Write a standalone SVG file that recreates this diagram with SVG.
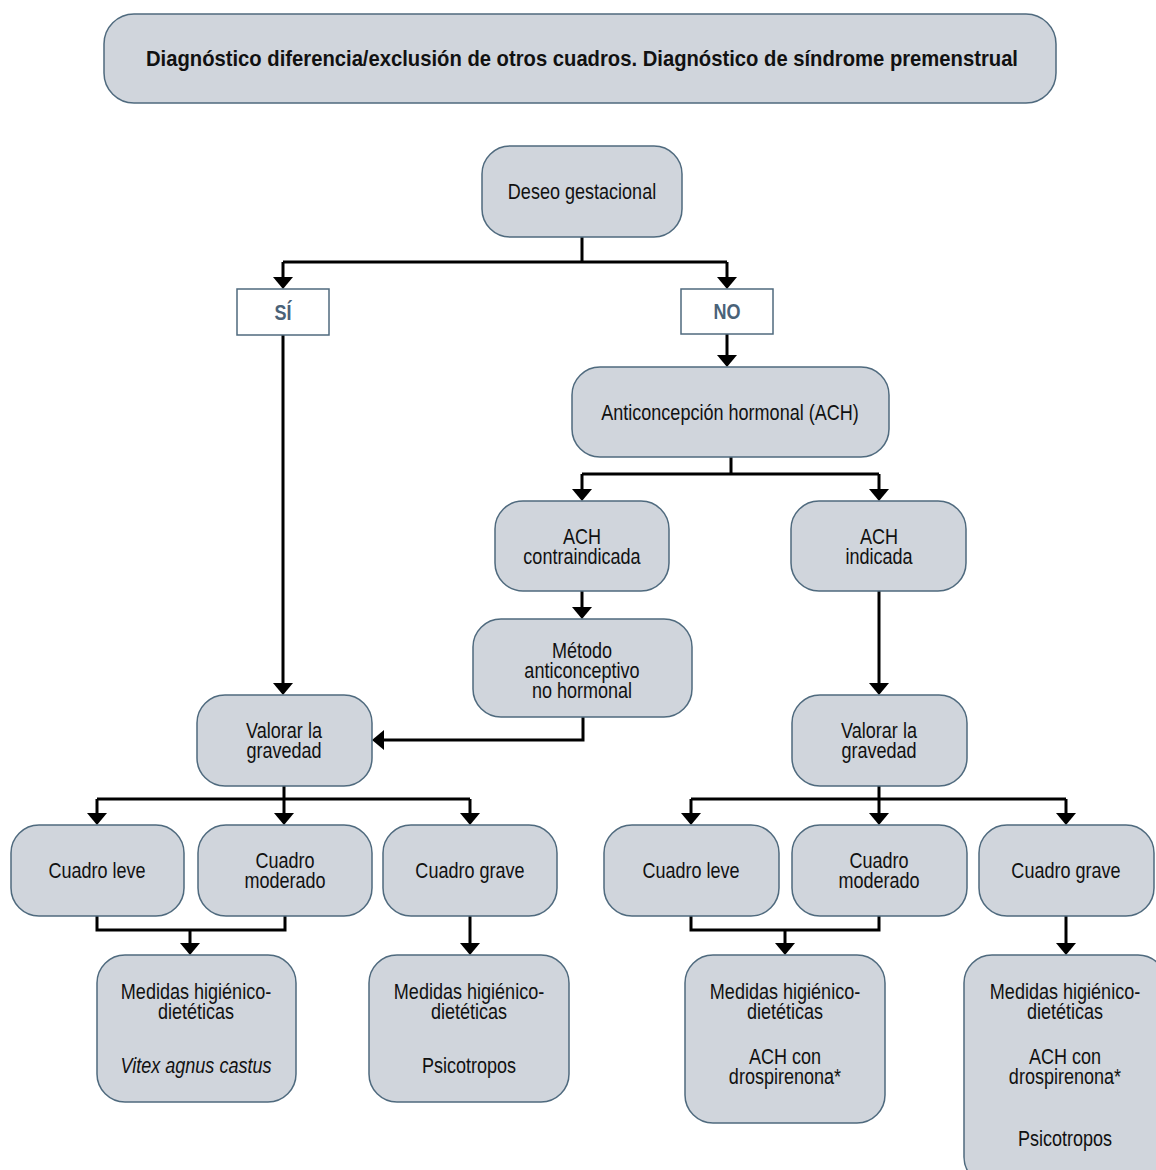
<svg xmlns="http://www.w3.org/2000/svg" width="1156" height="1170" viewBox="0 0 1156 1170">
<defs>
<marker id="ah" viewBox="0 0 12 20" refX="8" refY="10" markerWidth="12" markerHeight="20" markerUnits="userSpaceOnUse" orient="auto">
<path d="M0,0 L12,10 L0,20 z" fill="#000"/>
</marker>
<style>
.n{fill:#d0d5dc;stroke:#4f6a7e;stroke-width:1.5}
.b{fill:#fff;stroke:#4f6a7e;stroke-width:1.5}
text{font-family:"Liberation Sans",Arial,sans-serif;font-size:22px;fill:#111;text-anchor:middle}
.h{font-weight:bold;font-size:22px}
.lbl{font-weight:bold;fill:#4a6278}
.i{font-style:italic}
.c{fill:none;stroke:#000;stroke-width:3}
.a{fill:none;stroke:#000;stroke-width:3;marker-end:url(#ah)}
</style>
</defs>
<rect width="1156" height="1170" fill="#fff"/>
<g id="connectors">
<path class="c" d="M582,237 V262 M283,262 H727"/>
<path class="a" d="M283,262 V285"/>
<path class="a" d="M727,262 V285"/>
<path class="a" d="M283,335 V691"/>
<path class="a" d="M727,334 V363"/>
<path class="c" d="M731,457 V474 M582,474 H879"/>
<path class="a" d="M582,474 V497"/>
<path class="a" d="M879,474 V497"/>
<path class="a" d="M582,591 V615"/>
<path class="a" d="M583,717 V740 H376"/>
<path class="a" d="M879,591 V691"/>
<path class="c" d="M284,786 V799 M97,799 H470"/>
<path class="a" d="M97,799 V821"/>
<path class="a" d="M284,799 V821"/>
<path class="a" d="M470,799 V821"/>
<path class="c" d="M879,786 V799 M691,799 H1066"/>
<path class="a" d="M691,799 V821"/>
<path class="a" d="M879,799 V821"/>
<path class="a" d="M1066,799 V821"/>
<path class="c" d="M97,916 V930 H285 V916"/>
<path class="a" d="M190,930 V951"/>
<path class="a" d="M470,916 V951"/>
<path class="c" d="M691,916 V930 H879 V916"/>
<path class="a" d="M785,930 V951"/>
<path class="a" d="M1066,916 V951"/>
</g>
<g id="header"><rect class="n" x="104" y="14" width="952" height="89" rx="30"/><text class="h" x="582" y="66" textLength="872" lengthAdjust="spacingAndGlyphs">Diagnóstico diferencia/exclusión de otros cuadros. Diagnóstico de síndrome premenstrual</text></g>
<g id="deseo"><rect class="n" x="482" y="146" width="200" height="91" rx="28"/><text transform="translate(582,199) scale(.82,1)" x="0" y="0">Deseo gestacional</text></g>
<g id="si"><rect class="b" x="237" y="289" width="92" height="46"/><text class="lbl" transform="translate(283,320) scale(.82,1)" x="0" y="0">SÍ</text></g>
<g id="no"><rect class="b" x="681" y="289" width="92" height="45"/><text class="lbl" transform="translate(727,319) scale(.82,1)" x="0" y="0">NO</text></g>
<g id="ach"><rect class="n" x="572" y="367" width="317" height="90" rx="28"/><text transform="translate(730,420) scale(.82,1)" x="0" y="0">Anticoncepción hormonal (ACH)</text></g>
<g id="contra"><rect class="n" x="495" y="501" width="174" height="90" rx="28"/><text transform="translate(582,544) scale(.82,1)" x="0" y="0">ACH<tspan x="0" dy="20">contraindicada</tspan></text></g>
<g id="indicada"><rect class="n" x="791" y="501" width="175" height="90" rx="28"/><text transform="translate(879,544) scale(.82,1)" x="0" y="0">ACH<tspan x="0" dy="20">indicada</tspan></text></g>
<g id="metodo"><rect class="n" x="473" y="619" width="219" height="98" rx="28"/><text transform="translate(582,658) scale(.82,1)" x="0" y="0">Método<tspan x="0" dy="20">anticonceptivo</tspan><tspan x="0" dy="20">no hormonal</tspan></text></g>
<g id="valorar-l"><rect class="n" x="197" y="695" width="175" height="91" rx="28"/><text transform="translate(284,738) scale(.82,1)" x="0" y="0">Valorar la<tspan x="0" dy="20">gravedad</tspan></text></g>
<g id="valorar-r"><rect class="n" x="792" y="695" width="175" height="91" rx="28"/><text transform="translate(879,738) scale(.82,1)" x="0" y="0">Valorar la<tspan x="0" dy="20">gravedad</tspan></text></g>
<g id="leve-l"><rect class="n" x="11" y="825" width="173" height="91" rx="28"/><text transform="translate(97,878) scale(.82,1)" x="0" y="0">Cuadro leve</text></g>
<g id="moderado-l"><rect class="n" x="198" y="825" width="174" height="91" rx="28"/><text transform="translate(285,868) scale(.82,1)" x="0" y="0">Cuadro<tspan x="0" dy="20">moderado</tspan></text></g>
<g id="grave-l"><rect class="n" x="383" y="825" width="174" height="91" rx="28"/><text transform="translate(470,878) scale(.82,1)" x="0" y="0">Cuadro grave</text></g>
<g id="leve-r"><rect class="n" x="604" y="825" width="175" height="91" rx="28"/><text transform="translate(691,878) scale(.82,1)" x="0" y="0">Cuadro leve</text></g>
<g id="moderado-r"><rect class="n" x="792" y="825" width="175" height="91" rx="28"/><text transform="translate(879,868) scale(.82,1)" x="0" y="0">Cuadro<tspan x="0" dy="20">moderado</tspan></text></g>
<g id="grave-r"><rect class="n" x="979" y="825" width="175" height="91" rx="28"/><text transform="translate(1066,878) scale(.82,1)" x="0" y="0">Cuadro grave</text></g>
<g id="medidas-l"><rect class="n" x="97" y="955" width="199" height="147" rx="28"/><text transform="translate(196,999) scale(.82,1)" x="0" y="0">Medidas higiénico-<tspan x="0" dy="20">dietéticas</tspan></text><text class="i" transform="translate(196,1073) scale(.82,1)" x="0" y="0">Vitex agnus castus</text></g>
<g id="medidas-g"><rect class="n" x="369" y="955" width="200" height="147" rx="28"/><text transform="translate(469,999) scale(.82,1)" x="0" y="0">Medidas higiénico-<tspan x="0" dy="20">dietéticas</tspan></text><text transform="translate(469,1073) scale(.82,1)" x="0" y="0">Psicotropos</text></g>
<g id="medidas-r"><rect class="n" x="685" y="955" width="200" height="168" rx="28"/><text transform="translate(785,999) scale(.82,1)" x="0" y="0">Medidas higiénico-<tspan x="0" dy="20">dietéticas</tspan></text><text transform="translate(785,1064) scale(.82,1)" x="0" y="0">ACH con<tspan x="0" dy="20">drospirenona*</tspan></text></g>
<g id="medidas-rr"><rect class="n" x="964" y="955" width="202" height="230" rx="28"/><text transform="translate(1065,999) scale(.82,1)" x="0" y="0">Medidas higiénico-<tspan x="0" dy="20">dietéticas</tspan></text><text transform="translate(1065,1064) scale(.82,1)" x="0" y="0">ACH con<tspan x="0" dy="20">drospirenona*</tspan></text><text transform="translate(1065,1146) scale(.82,1)" x="0" y="0">Psicotropos</text></g>
</svg>
